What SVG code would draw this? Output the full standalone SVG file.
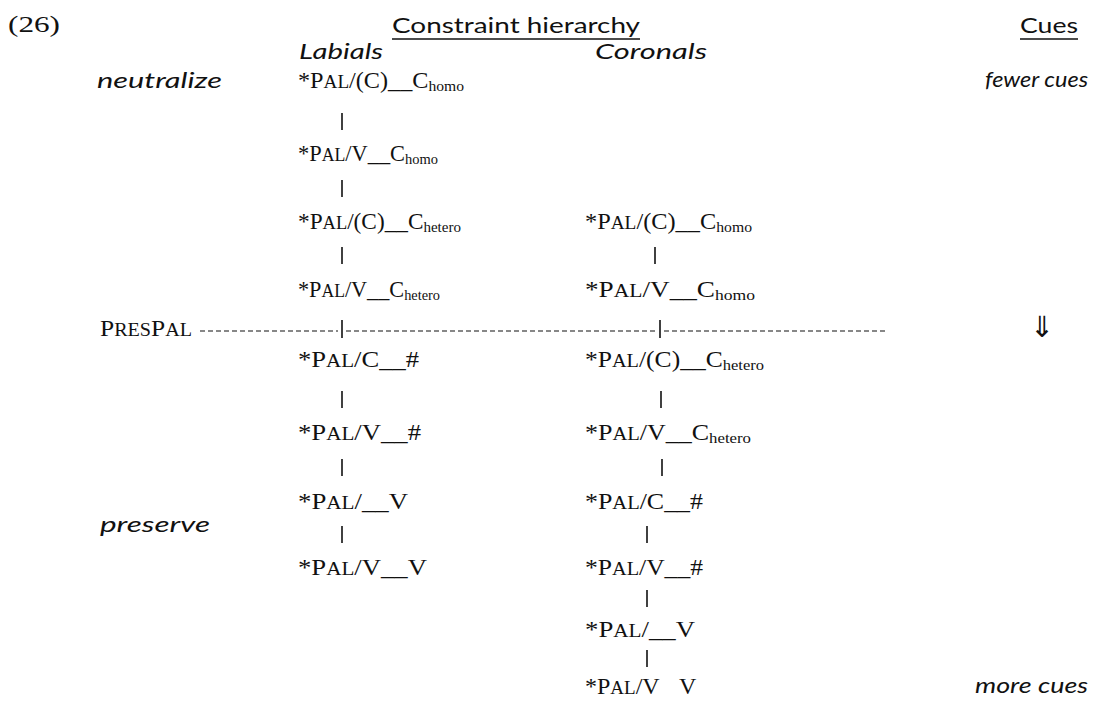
<svg xmlns="http://www.w3.org/2000/svg" width="1105" height="703" viewBox="0 0 1105 703">
<style>
text{fill:#111}
.s{font-family:"Liberation Serif","Times New Roman",serif;font-size:24px}
.sc{font-size:19px}
.sub{font-size:15.5px}
.i{font-family:Lato,"Open Sans",sans-serif;font-style:italic;font-size:22px}
.h{font-family:Lato,"Open Sans",sans-serif;font-size:22px}
.bar{stroke:#111;stroke-width:1.6}
.ul{stroke:#111;stroke-width:1.3}
.dash{stroke:#111;stroke-width:1.2;stroke-dasharray:5 3}
</style>
<rect width="1105" height="703" fill="#fff"/>

<g id="labels">
<text class="s" x="8" y="32" textLength="52" lengthAdjust="spacingAndGlyphs">(26)</text>
<text class="h" x="392" y="33" textLength="248" lengthAdjust="spacingAndGlyphs">Constraint hierarchy</text>
<line class="ul" x1="392" y1="39" x2="640" y2="39"/>
<text class="h" x="1020" y="33" textLength="58" lengthAdjust="spacingAndGlyphs">Cues</text>
<line class="ul" x1="1020" y1="39" x2="1078" y2="39"/>
<text class="i" x="299" y="59" textLength="84" lengthAdjust="spacingAndGlyphs">Labials</text>
<text class="i" x="595" y="59" textLength="112" lengthAdjust="spacingAndGlyphs">Coronals</text>
<text class="i" x="97" y="88" textLength="125" lengthAdjust="spacingAndGlyphs">neutralize</text>
<text class="i" x="100" y="532" textLength="110" lengthAdjust="spacingAndGlyphs">preserve</text>
<text class="i" x="985" y="87" textLength="103" lengthAdjust="spacingAndGlyphs">fewer cues</text>
<text class="i" x="975" y="693" textLength="113" lengthAdjust="spacingAndGlyphs">more cues</text>
<text x="1030" y="337" font-family="DejaVu Sans, sans-serif" font-size="29px">⇓</text>
</g>

<g id="prespal">
<text class="s" x="100" y="336" textLength="92" lengthAdjust="spacingAndGlyphs">P<tspan class="sc">RES</tspan>P<tspan class="sc">AL</tspan></text>
<line class="dash" x1="200" y1="331" x2="338" y2="331"/>
<line class="bar" x1="342" y1="320" x2="342" y2="338"/>
<line class="dash" x1="346" y1="331" x2="656" y2="331"/>
<line class="bar" x1="660" y1="320" x2="660" y2="338"/>
<line class="dash" x1="664" y1="331" x2="885" y2="331"/>
</g>

<g id="lab0"><text class="s" x="298" y="88" textLength="166" lengthAdjust="spacingAndGlyphs">*P<tspan class="sc">AL</tspan>/(C)__C<tspan class="sub" dy="3">homo</tspan></text></g>
<g id="lab1"><text class="s" x="298" y="161" textLength="140" lengthAdjust="spacingAndGlyphs">*P<tspan class="sc">AL</tspan>/V__C<tspan class="sub" dy="3">homo</tspan></text></g>
<g id="lab2"><text class="s" x="298" y="229" textLength="163" lengthAdjust="spacingAndGlyphs">*P<tspan class="sc">AL</tspan>/(C)__C<tspan class="sub" dy="3">hetero</tspan></text></g>
<g id="lab3"><text class="s" x="298" y="297" textLength="142" lengthAdjust="spacingAndGlyphs">*P<tspan class="sc">AL</tspan>/V__C<tspan class="sub" dy="3">hetero</tspan></text></g>
<g id="lab4"><text class="s" x="298" y="367" textLength="121" lengthAdjust="spacingAndGlyphs">*P<tspan class="sc">AL</tspan>/C__#</text></g>
<g id="lab5"><text class="s" x="298" y="440" textLength="123" lengthAdjust="spacingAndGlyphs">*P<tspan class="sc">AL</tspan>/V__#</text></g>
<g id="lab6"><text class="s" x="298" y="509" textLength="110" lengthAdjust="spacingAndGlyphs">*P<tspan class="sc">AL</tspan>/__V</text></g>
<g id="lab7"><text class="s" x="298" y="575" textLength="129" lengthAdjust="spacingAndGlyphs">*P<tspan class="sc">AL</tspan>/V__V</text></g>

<g id="cor0"><text class="s" x="585" y="229" textLength="167" lengthAdjust="spacingAndGlyphs">*P<tspan class="sc">AL</tspan>/(C)__C<tspan class="sub" dy="3">homo</tspan></text></g>
<g id="cor1"><text class="s" x="585" y="297" textLength="170" lengthAdjust="spacingAndGlyphs">*P<tspan class="sc">AL</tspan>/V__C<tspan class="sub" dy="3">homo</tspan></text></g>
<g id="cor2"><text class="s" x="585" y="367" textLength="179" lengthAdjust="spacingAndGlyphs">*P<tspan class="sc">AL</tspan>/(C)__C<tspan class="sub" dy="3">hetero</tspan></text></g>
<g id="cor3"><text class="s" x="585" y="440" textLength="166" lengthAdjust="spacingAndGlyphs">*P<tspan class="sc">AL</tspan>/V__C<tspan class="sub" dy="3">hetero</tspan></text></g>
<g id="cor4"><text class="s" x="585" y="509" textLength="118" lengthAdjust="spacingAndGlyphs">*P<tspan class="sc">AL</tspan>/C__#</text></g>
<g id="cor5"><text class="s" x="585" y="575" textLength="118" lengthAdjust="spacingAndGlyphs">*P<tspan class="sc">AL</tspan>/V__#</text></g>
<g id="cor6"><text class="s" x="585" y="637" textLength="110" lengthAdjust="spacingAndGlyphs">*P<tspan class="sc">AL</tspan>/__V</text></g>
<g id="cor7"><text class="s" x="585" y="694">*P<tspan class="sc">AL</tspan>/V<tspan x="679">V</tspan></text></g>

<g id="connectors">
<line class="bar" x1="342" y1="113" x2="342" y2="130"/>
<line class="bar" x1="342" y1="180" x2="342" y2="197"/>
<line class="bar" x1="342" y1="247" x2="342" y2="264"/>
<line class="bar" x1="342" y1="391" x2="342" y2="408"/>
<line class="bar" x1="342" y1="459" x2="342" y2="476"/>
<line class="bar" x1="342" y1="526" x2="342" y2="543"/>
<line class="bar" x1="655" y1="247" x2="655" y2="264"/>
<line class="bar" x1="661" y1="391" x2="661" y2="408"/>
<line class="bar" x1="662" y1="459" x2="662" y2="476"/>
<line class="bar" x1="647" y1="526" x2="647" y2="543"/>
<line class="bar" x1="647" y1="590" x2="647" y2="607"/>
<line class="bar" x1="647" y1="650" x2="647" y2="667"/>
</g>
</svg>
